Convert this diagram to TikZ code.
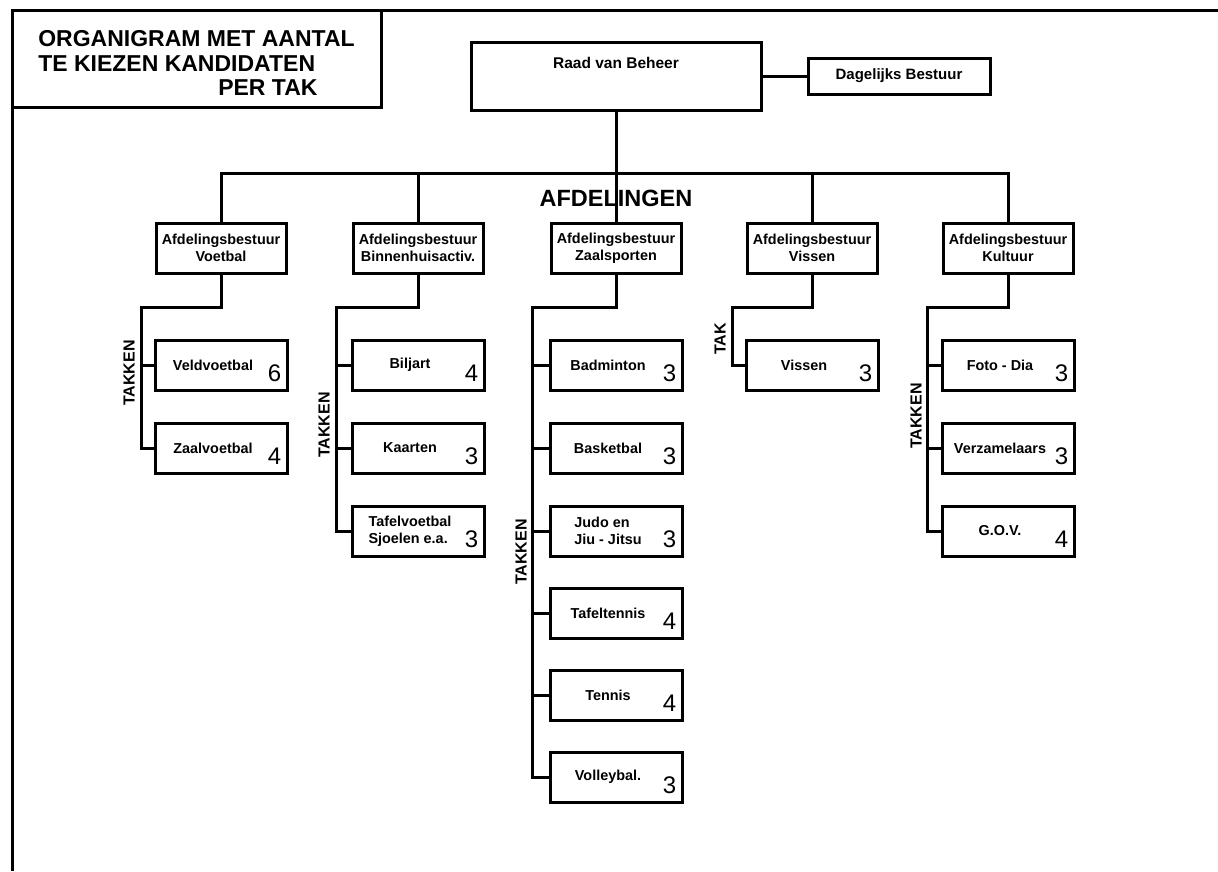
\documentclass[tikz,border=0pt]{standalone}
\usepackage{fontspec}
\setmainfont{Liberation Sans}
\usetikzlibrary{calc}
\tikzset{lijn/.style={line width=3pt}}
\tikzset{blok/.style={draw, line width=3pt, minimum width=132pt, minimum height=50pt, inner sep=2pt, font=\bfseries\fontsize{14.4}{17}\selectfont}}
\tikzset{afd/.style={blok, minimum width=130pt, align=center}}
\tikzset{tak/.style={blok, execute at end node={\hspace*{16pt}}}}
\tikzset{getal/.style={anchor=east, inner sep=0pt, font=\fontsize{24}{24}\selectfont}}
\tikzset{takken/.style={rotate=90, inner sep=0pt, font=\bfseries\fontsize{16}{16}\selectfont}}

\begin{document}
\begin{tikzpicture}[x=1pt, y=-1pt]
    \useasboundingbox (0,0) rectangle (1218,871);
    \draw [lijn] (12,871) -- (12,10) -- (1218,10);
    \node [draw, lijn, outer sep=0pt, anchor=north west, minimum width=369pt, minimum height=97pt, align=left, font=\bfseries\fontsize{23}{24.5}\selectfont] (titel) at (12,10)
        {\rule{0pt}{25pt}ORGANIGRAM MET AANTAL\\TE KIEZEN KANDIDATEN\\\hspace*{180pt}PER TAK};
    % top
    \node [blok, minimum width=290pt, minimum height=68pt, text depth=26pt, font=\bfseries\fontsize{15.5}{17}\selectfont] (raad) at (616,76) {Raad van Beheer};
    \node [blok, minimum width=182pt, minimum height=36pt, font=\bfseries\fontsize{15}{17}\selectfont] (dag) at (899,76) {Dagelijks Bestuur};
    \draw [lijn] (raad) -- (dag);
    % afdelingen
    \node [afd] (voet) at (221,248) {Afdelingsbestuur\\Voetbal};
    \node [afd] (binn) at (418,248) {Afdelingsbestuur\\Binnenhuisactiv.};
    \node [afd] (zaal) at (616,248) {Afdelingsbestuur\\Zaalsporten};
    \node [afd] (viss) at (812,248) {Afdelingsbestuur\\Vissen};
    \node [afd] (kult) at (1008,248) {Afdelingsbestuur\\Kultuur};
    \draw [lijn] (raad) -- (zaal);
    \draw [lijn] (voet.north) -- ++(0,-48) -| (kult.north);
    \draw [lijn] (binn.north) -- ++(0,-48);
    \draw [lijn] (viss.north) -- ++(0,-48);
    \node [font=\bfseries\fontsize{23.5}{24}\selectfont, inner sep=0pt] (afdelingen) at (616,198) {AFDELINGEN};
    % voetbal
    \node [tak] (veld) at (221,365) {Veldvoetbal};
    \node [tak] (zaalv) at (221,448) {Zaalvoetbal};
    \node [getal] (veldn) at ([xshift=-7pt, yshift=-8pt]veld.east) {6};
    \node [getal] (zaalvn) at ([xshift=-7pt, yshift=-8pt]zaalv.east) {4};
    \coordinate (kvoet) at (141,307);
    \draw [lijn] (voet.south) |- (kvoet) |- (zaalv.west);
    \draw [lijn] (kvoet |- veld.west) -- (veld.west);
    \node [takken] (tvoet) at (129,373) {TAKKEN};
    % binnenhuis
    \node [tak] (bilj) at (418,365) {Biljart};
    \node [tak] (kaart) at (418,448) {Kaarten};
    \node [tak, align=left] (tafv) at (418,531) {Tafelvoetbal\\Sjoelen e.a.};
    \node [getal] (biljn) at ([xshift=-7pt, yshift=-8pt]bilj.east) {4};
    \node [getal] (kaartn) at ([xshift=-7pt, yshift=-8pt]kaart.east) {3};
    \node [getal] (tafvn) at ([xshift=-7pt, yshift=-8pt]tafv.east) {3};
    \coordinate (kbinn) at (336,307);
    \draw [lijn] (binn.south) |- (kbinn) |- (tafv.west);
    \draw [lijn] (kbinn |- bilj.west) -- (bilj.west);
    \draw [lijn] (kbinn |- kaart.west) -- (kaart.west);
    \node [takken] (tbinn) at (324,425) {TAKKEN};
    % zaalsporten
    \node [tak] (badm) at (616,365) {Badminton};
    \node [tak] (bask) at (616,448) {Basketbal};
    \node [tak, align=left] (judo) at (616,531) {Judo en\\Jiu - Jitsu};
    \node [tak] (tafelt) at (616,613) {Tafeltennis};
    \node [tak] (tenn) at (616,695) {Tennis};
    \node [tak] (volley) at (616,777) {Volleybal.};
    \node [getal] (badmn) at ([xshift=-7pt, yshift=-8pt]badm.east) {3};
    \node [getal] (baskn) at ([xshift=-7pt, yshift=-8pt]bask.east) {3};
    \node [getal] (judon) at ([xshift=-7pt, yshift=-8pt]judo.east) {3};
    \node [getal] (tafeltn) at ([xshift=-7pt, yshift=-8pt]tafelt.east) {4};
    \node [getal] (tennn) at ([xshift=-7pt, yshift=-8pt]tenn.east) {4};
    \node [getal] (volleyn) at ([xshift=-7pt, yshift=-8pt]volley.east) {3};
    \coordinate (kzaal) at (532,307);
    \draw [lijn] (zaal.south) |- (kzaal) |- (volley.west);
    \draw [lijn] (kzaal |- badm.west) -- (badm.west);
    \draw [lijn] (kzaal |- bask.west) -- (bask.west);
    \draw [lijn] (kzaal |- judo.west) -- (judo.west);
    \draw [lijn] (kzaal |- tafelt.west) -- (tafelt.west);
    \draw [lijn] (kzaal |- tenn.west) -- (tenn.west);
    \node [takken] (tzaal) at (521,552) {TAKKEN};
    % vissen
    \node [tak] (vis) at (812,365) {Vissen};
    \node [getal] (visn) at ([xshift=-7pt, yshift=-8pt]vis.east) {3};
    \coordinate (kviss) at (732,307);
    \draw [lijn] (viss.south) |- (kviss) |- (vis.west);
    \node [takken] (tviss) at (720,339) {TAK};
    % kultuur
    \node [tak] (foto) at (1008,365) {Foto - Dia};
    \node [tak] (verz) at (1008,448) {Verzamelaars};
    \node [tak] (gov) at (1008,531) {G.O.V.};
    \node [getal] (foton) at ([xshift=-7pt, yshift=-8pt]foto.east) {3};
    \node [getal] (verzn) at ([xshift=-7pt, yshift=-8pt]verz.east) {3};
    \node [getal] (govn) at ([xshift=-7pt, yshift=-8pt]gov.east) {4};
    \coordinate (kkult) at (927,307);
    \draw [lijn] (kult.south) |- (kkult) |- (gov.west);
    \draw [lijn] (kkult |- foto.west) -- (foto.west);
    \draw [lijn] (kkult |- verz.west) -- (verz.west);
    \node [takken] (tkult) at (916,416) {TAKKEN};
\end{tikzpicture}
\end{document}
